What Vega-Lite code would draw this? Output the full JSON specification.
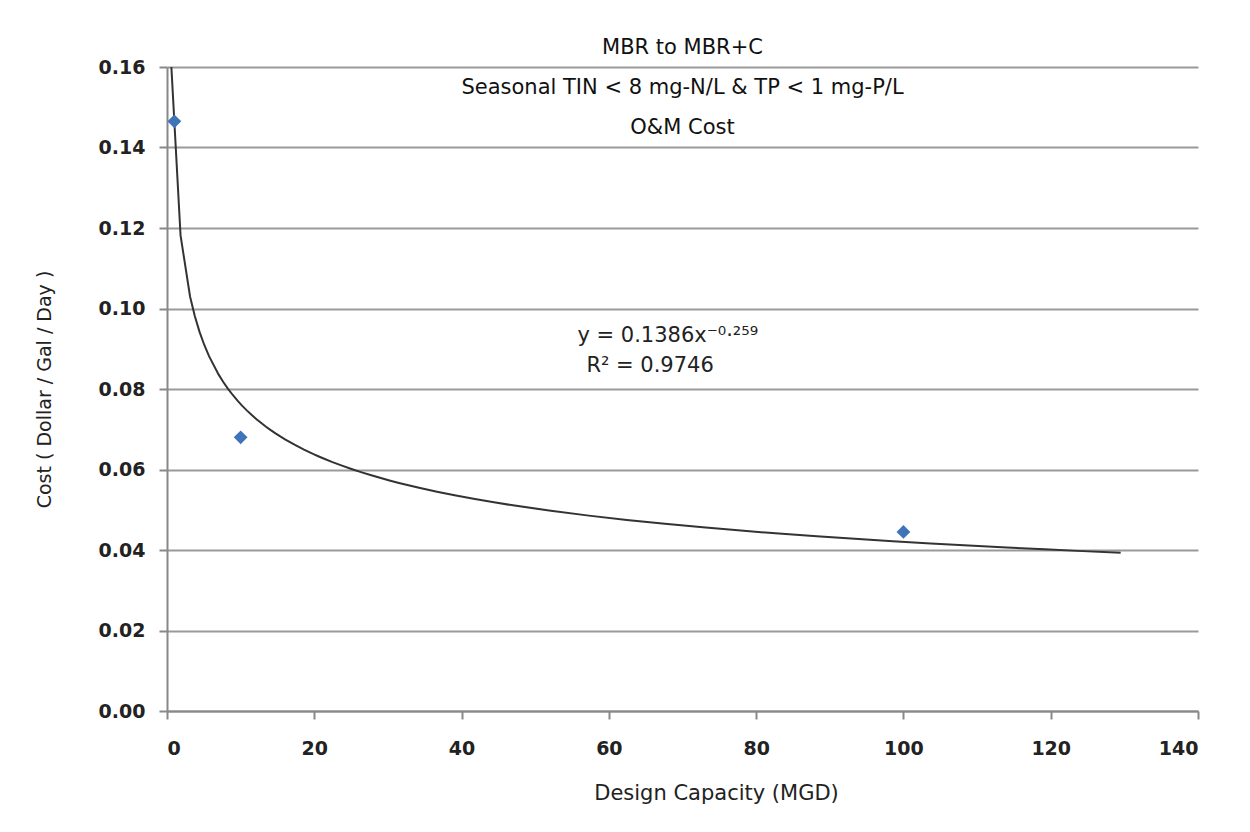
{
  "$schema": "https://vega.github.io/schema/vega-lite/v6.json",
  "width": 1031,
  "height": 644,
  "autosize": {"type": "none"},
  "padding": {"left": 167, "top": 67, "right": 52, "bottom": 121},
  "background": "white",
  "title": {
    "text": ["MBR to MBR+C", "Seasonal TIN < 8 mg-N/L & TP < 1 mg-P/L", "O&M Cost"],
    "anchor": "middle",
    "orient": "top",
    "offset": -80,
    "font": "DejaVu Sans",
    "fontSize": 21,
    "fontWeight": "normal",
    "lineHeight": 40,
    "color": "#111"
  },
  "data": {
    "values": [
      {"capacity": 1, "cost": 0.1465},
      {"capacity": 10, "cost": 0.068},
      {"capacity": 100, "cost": 0.0445}
    ]
  },
  "layer": [
    {
      "transform": [
        {"regression": "cost", "on": "capacity", "method": "pow", "extent": [0.55, 129.5]}
      ],
      "mark": {"type": "line", "color": "#333", "strokeWidth": 2, "clip": true},
      "encoding": {
        "x": {"field": "capacity", "type": "quantitative"},
        "y": {"field": "cost", "type": "quantitative"}
      }
    },
    {
      "mark": {"type": "point", "shape": "diamond", "filled": true, "color": "#3F74B8", "size": 190, "opacity": 1},
      "encoding": {
        "x": {
          "field": "capacity",
          "type": "quantitative",
          "scale": {"domain": [0, 140], "nice": false},
          "axis": {
            "title": "Design Capacity (MGD)",
            "titleFontSize": 21,
            "titleX": 549,
            "values": [0, 20, 40, 60, 80, 100, 120, 140],
            "grid": false,
            "tickSize": 8,
            "labelPadding": 20,
            "titlePadding": 24
          }
        },
        "y": {
          "field": "cost",
          "type": "quantitative",
          "scale": {"domain": [0, 0.16], "nice": false},
          "axis": {
            "title": "Cost   ( Dollar / Gal / Day )",
            "values": [0, 0.02, 0.04, 0.06, 0.08, 0.1, 0.12, 0.14, 0.16],
            "format": ".2f",
            "grid": true,
            "tickSize": 8,
            "labelPadding": 14,
            "titlePadding": 44
          }
        }
      }
    },
    {
      "data": {
        "values": [
          {"capacity": 68, "cost": 0.0932, "label": "y = 0.1386x⁻⁰·²⁵⁹"},
          {"capacity": 65.6, "cost": 0.0857, "label": "R² = 0.9746"}
        ]
      },
      "mark": {"type": "text", "font": "DejaVu Sans", "fontSize": 21, "color": "#222", "align": "center", "baseline": "middle"},
      "encoding": {
        "x": {"field": "capacity", "type": "quantitative"},
        "y": {"field": "cost", "type": "quantitative"},
        "text": {"field": "label"}
      }
    }
  ],
  "config": {
    "view": {"stroke": null},
    "axis": {
      "labelFont": "DejaVu Sans",
      "labelFontSize": 19,
      "labelFontWeight": "bold",
      "labelColor": "#222",
      "titleFont": "DejaVu Sans",
      "titleFontSize": 19,
      "titleFontWeight": "normal",
      "titleColor": "#222",
      "domainColor": "#888",
      "domainWidth": 2,
      "tickColor": "#888",
      "tickWidth": 2,
      "gridColor": "#9a9a9a",
      "gridWidth": 2
    }
  }
}
